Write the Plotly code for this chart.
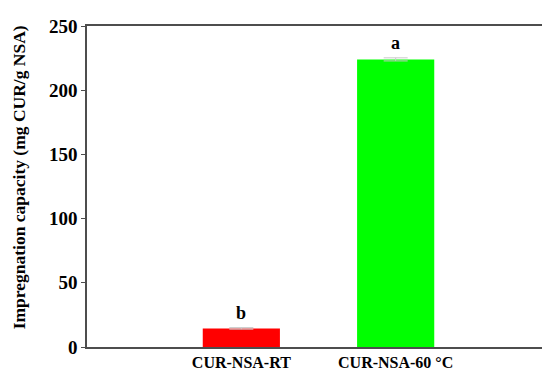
import plotly.graph_objects as go

categories = ["CUR-NSA-RT", "CUR-NSA-60 °C"]
values = [14.5, 224.0]
errors = [0.6, 1.2]
letters = ["b", "a"]
colors = ["#ff0000", "#00ff00"]
yticks = [0, 50, 100, 150, 200, 250]
ytitle = "Impregnation capacity (mg CUR/g NSA)"

fam = "Liberation Serif"

fig = go.Figure()
fig.add_trace(go.Bar(
    x=[0, 1], y=values, width=0.5,
    marker=dict(color=colors, line=dict(width=0)),
    error_y=dict(type="data", array=errors, color="#c8c8c8", thickness=1, width=12),
))
for i, (v, e, l) in enumerate(zip(values, errors, letters)):
    fig.add_annotation(x=i, y=v + e, text="<b>%s</b>" % l, showarrow=False,
                       yanchor="bottom", yshift=3,
                       font=dict(family=fam, size=18, color="black"))

fig.add_annotation(xref="paper", yref="paper", x=-0.148, y=0.53,
                   text="<b>%s</b>" % ytitle, textangle=-90, showarrow=False,
                   xanchor="center", yanchor="middle",
                   font=dict(family=fam, size=17.5, color="black"))

fig.update_layout(
    width=550, height=371,
    margin=dict(l=79, r=8, t=12, b=32),
    plot_bgcolor="white", paper_bgcolor="white",
    showlegend=False,
    font=dict(family=fam, size=16, color="black"),
)
fig.update_xaxes(
    range=[-1.0, 2.0], tickmode="array", tickvals=[0, 1],
    ticktext=["<b>%s</b>" % c for c in categories],
    tickfont=dict(family=fam, size=16, color="black"),
    showline=True, linecolor="#4d4d4d", linewidth=1.5, mirror=True,
    ticks="", showgrid=False, zeroline=False,
)
fig.update_yaxes(
    range=[0, 250], tickmode="array", tickvals=yticks,
    ticktext=["<b>%d</b>" % t for t in yticks],
    tickfont=dict(family=fam, size=19, color="black"),
    showline=True, linecolor="#4d4d4d", linewidth=1.5,
    ticks="outside", ticklen=4, tickcolor="#4d4d4d",
    showgrid=False, zeroline=False,
)
fig.write_html("out.html")
